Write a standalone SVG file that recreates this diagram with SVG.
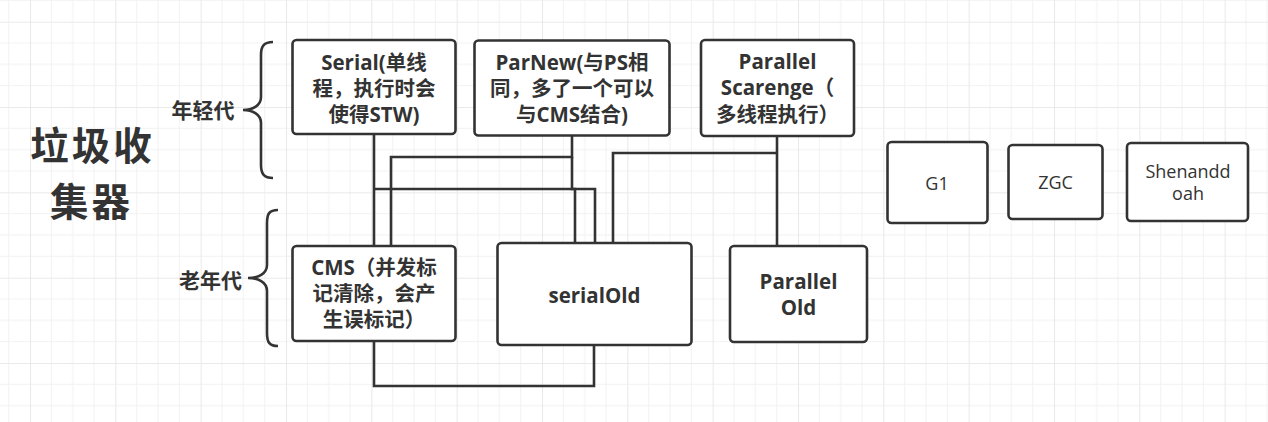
<svg xmlns="http://www.w3.org/2000/svg" width="1268" height="422" viewBox="0 0 1268 422">
  <style>
    .box { fill: #ffffff; stroke: #333333; stroke-width: 2.6; }
    .bt { font-family: "Open Sans", "Noto Sans CJK SC", sans-serif; font-weight: bold; font-size: 20.5px; fill: #333333; text-anchor: middle; }
    .nt { font-family: "Open Sans", "Noto Sans CJK SC", sans-serif; font-size: 18px; fill: #333333; text-anchor: middle; }
    .lbl { font-family: "Noto Sans CJK SC", sans-serif; font-weight: bold; font-size: 21px; fill: #333333; text-anchor: middle; }
    .title { font-family: "Noto Sans CJK SC", sans-serif; font-weight: bold; font-size: 38.5px; letter-spacing: 3px; fill: #333333; text-anchor: middle; }
    .wire { fill: none; stroke: #333333; stroke-width: 2.6; stroke-linejoin: miter; }
  </style>
  <defs>
    <pattern id="grid" patternUnits="userSpaceOnUse" x="30" y="21.67" width="85.333" height="85.333">
      <rect width="85.333" height="85.333" fill="#ffffff"/>
      <g stroke="#f2f2f2" stroke-width="1">
        <line x1="21.333" y1="0" x2="21.333" y2="85.333"/>
        <line x1="42.667" y1="0" x2="42.667" y2="85.333"/>
        <line x1="64" y1="0" x2="64" y2="85.333"/>
        <line x1="0" y1="21.333" x2="85.333" y2="21.333"/>
        <line x1="0" y1="42.667" x2="85.333" y2="42.667"/>
        <line x1="0" y1="64" x2="85.333" y2="64"/>
      </g>
      <g stroke="#e9e9e9" stroke-width="2">
        <line x1="0" y1="0" x2="0" y2="85.333"/>
        <line x1="0" y1="0" x2="85.333" y2="0"/>
      </g>
    </pattern>
  </defs>
  <rect width="1268" height="422" fill="url(#grid)"/>

  <g id="title">
    <text class="title"><tspan x="92.5" y="159.5">垃圾收</tspan><tspan x="91.5" y="215.5">集器</tspan></text>
  </g>

  <g id="young-brace">
    <text class="lbl" x="203" y="118">年轻代</text>
    <path class="wire" d="M273,42 C264,42 261,46 261,55 L261,97 C261,106 252,110 243,110 C252,110 261,114 261,123 L261,165 C261,174 264,178 273,178"/>
  </g>
  <g id="old-brace">
    <text class="lbl" x="210.5" y="287.5">老年代</text>
    <path class="wire" d="M278,210 C269,210 267,214 267,223 L267,265 C267,274 258,278 248,278 C258,278 267,282 267,291 L267,333 C267,342 269,346 278,346"/>
  </g>

  <g id="connectors">
    <path class="wire" d="M374,134 L374,246"/>
    <path class="wire" d="M374,189 L595,189 L595,243"/>
    <path class="wire" d="M572,135 L572,157 L391,157 L391,246"/>
    <path class="wire" d="M572,157 L572,189 L575,189 L575,243"/>
    <path class="wire" d="M777,136 L777,246"/>
    <path class="wire" d="M777,153 L613,153 L613,243"/>
    <path class="wire" d="M374,341 L374,386 L594,386 L594,345"/>
  </g>

  <g id="serial">
    <rect class="box" x="292.5" y="40" width="163" height="94" rx="4"/>
    <text class="bt"><tspan x="374" y="69.5">Serial(单线</tspan><tspan x="374" y="95.5">程，执行时会</tspan><tspan x="374" y="121.5">使得STW)</tspan></text>
  </g>
  <g id="parnew">
    <rect class="box" x="474.5" y="40.5" width="195" height="95" rx="4"/>
    <text class="bt"><tspan x="572" y="69.5">ParNew(与PS相</tspan><tspan x="572" y="95.5">同，多了一个可以</tspan><tspan x="572" y="121.5">与CMS结合)</tspan></text>
  </g>
  <g id="parallel-scavenge">
    <rect class="box" x="701" y="40" width="153" height="96" rx="4"/>
    <text class="bt"><tspan x="777.5" y="68.5">Parallel</tspan><tspan x="777.5" y="95">Scarenge（</tspan><tspan x="777.5" y="121.5">多线程执行）</tspan></text>
  </g>
  <g id="cms">
    <rect class="box" x="292.5" y="246" width="163" height="95" rx="4"/>
    <text class="bt"><tspan x="374" y="274.5">CMS（并发标</tspan><tspan x="374" y="300.5">记清除，会产</tspan><tspan x="374" y="326.5">生误标记）</tspan></text>
  </g>
  <g id="serialold">
    <rect class="box" x="497.5" y="243" width="194" height="102" rx="4"/>
    <text class="bt" x="594.5" y="303">serialOld</text>
  </g>
  <g id="parallel-old">
    <rect class="box" x="730" y="246" width="137" height="96" rx="4"/>
    <text class="bt"><tspan x="798.5" y="289">Parallel</tspan><tspan x="798.5" y="314.5">Old</tspan></text>
  </g>
  <g id="g1">
    <rect class="box" x="887.5" y="142" width="100" height="81" rx="4"/>
    <text class="nt" x="937" y="189.5">G1</text>
  </g>
  <g id="zgc">
    <rect class="box" x="1008.5" y="145" width="94" height="74" rx="4"/>
    <text class="nt" x="1055.5" y="189">ZGC</text>
  </g>
  <g id="shenandoah">
    <rect class="box" x="1127" y="143" width="121" height="78" rx="4"/>
    <text class="nt"><tspan x="1188" y="178">Shenandd</tspan><tspan x="1188" y="200">oah</tspan></text>
  </g>
</svg>
